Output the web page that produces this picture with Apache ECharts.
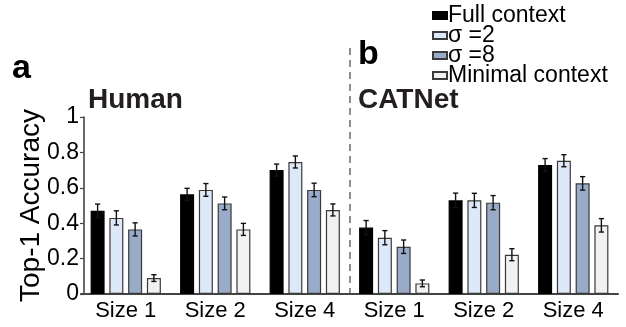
<!DOCTYPE html>
<html>
<head>
<meta charset="utf-8">
<script src="https://cdn.jsdelivr.net/npm/echarts@6/dist/echarts.min.js"></script>
<style>
html,body{margin:0;padding:0;background:#fff;}
#main{width:626px;height:327px;}
</style>
</head>
<body>
<div id="main"></div>
<script>
var categories = ['Size 1', 'Size 2', 'Size 4', 'Size 1', 'Size 2', 'Size 4'];
var seriesNames = ['Full context', 'σ =2', 'σ =8', 'Minimal context'];
var fullContext = [0.47, 0.563, 0.70, 0.375, 0.529, 0.729];
var sigma2 = [0.43, 0.588, 0.746, 0.318, 0.529, 0.753];
var sigma8 = [0.365, 0.512, 0.588, 0.267, 0.516, 0.625];
var minimalContext = [0.09, 0.365, 0.475, 0.06, 0.222, 0.388];
var fullErr = [0.038, 0.034, 0.034, 0.04, 0.041, 0.036];
var sigma2Err = [0.04, 0.036, 0.034, 0.04, 0.04, 0.034];
var sigma8Err = [0.037, 0.036, 0.038, 0.038, 0.04, 0.038];
var minimalErr = [0.019, 0.034, 0.034, 0.019, 0.034, 0.038];
var yTicks = [0, 0.2, 0.4, 0.6, 0.8, 1];

var values = [fullContext, sigma2, sigma8, minimalContext];
var errors = [fullErr, sigma2Err, sigma8Err, minimalErr];
var colors = ['#000000', '#dde9f9', '#9aabc9', '#f1f1f1'];
var FONT = "'Liberation Sans', Arial, Helvetica, sans-serif";
var BAR_W = 14, BAR_GAP = 4.76;

var chart = echarts.init(document.getElementById('main'), null, {renderer: 'canvas'});

var series = [];
values.forEach(function (vals, i) {
  series.push({
    name: seriesNames[i],
    type: 'bar',
    data: vals,
    barWidth: BAR_W,
    barGap: (BAR_GAP / BAR_W * 100) + '%',
    itemStyle: {color: colors[i], borderColor: i === 0 ? '#000' : '#3a3a3a', borderWidth: 1.2},
    emphasis: {disabled: true},
    z: 2
  });
});
errors.forEach(function (errs, i) {
  series.push({
    type: 'custom',
    data: errs.map(function (e, k) { return [k, values[i][k], e]; }),
    z: 5,
    silent: true,
    renderItem: function (params, api) {
      var c = api.value(0), v = api.value(1), e = api.value(2);
      var top = api.coord([c, v + e]);
      var bot = api.coord([c, v - e]);
      var x = top[0] + (i - 1.5) * (BAR_W + BAR_GAP);
      var cap = 2.6;
      var st = {stroke: '#111', lineWidth: 1.4};
      return {
        type: 'group',
        children: [
          {type: 'line', shape: {x1: x, y1: top[1], x2: x, y2: bot[1]}, style: st},
          {type: 'line', shape: {x1: x - cap, y1: top[1], x2: x + cap, y2: top[1]}, style: st},
          {type: 'line', shape: {x1: x - cap, y1: bot[1], x2: x + cap, y2: bot[1]}, style: st}
        ]
      };
    }
  });
});

var option = {
  animation: false,
  textStyle: {fontFamily: FONT},
  grid: {left: 81, right: 8, top: 117, bottom: 33, containLabel: false},
  legend: {
    data: seriesNames.map(function (n) { return {name: n, icon: 'rect'}; }),
    orient: 'vertical',
    left: 432,
    top: 4,
    itemWidth: 14,
    itemHeight: 7,
    itemGap: -3,
    padding: 0,
    selectedMode: false,
    textStyle: {fontFamily: FONT, fontSize: 23, lineHeight: 20, color: '#000', padding: [0, 0, 0, -4]}
  },
  xAxis: {
    type: 'category',
    data: categories,
    axisLine: {lineStyle: {color: '#444', width: 2}},
    axisTick: {show: false},
    axisLabel: {fontFamily: FONT, fontSize: 22, color: '#000', margin: 6}
  },
  yAxis: {
    type: 'value',
    min: 0, max: 1, interval: 0.2,
    offset: -3,
    name: 'Top-1 Accuracy',
    nameLocation: 'middle',
    nameRotate: 90,
    nameGap: 39,
    nameMoveOverlap: false,
    nameTextStyle: {fontFamily: FONT, fontSize: 28, color: '#000'},
    splitLine: {show: false},
    axisLine: {show: true, lineStyle: {color: '#444', width: 1.6}},
    axisTick: {show: true, length: 4, lineStyle: {color: '#444', width: 1.2}},
    axisLabel: {
      fontFamily: FONT, fontSize: 23, color: '#000', margin: 5,
      formatter: function (v) { return yTicks.indexOf(+v.toFixed(2)) >= 0 ? String(+v.toFixed(2)) : ''; }
    }
  },
  series: series
};
chart.setOption(option);

// decorative panel texts and divider
var p2 = chart.convertToPixel({xAxisIndex: 0}, 2);
var p3 = chart.convertToPixel({xAxisIndex: 0}, 3);
var y0 = chart.convertToPixel({yAxisIndex: 0}, 0);
var divX = Math.round((p2 + p3) / 2);
chart.setOption({
  graphic: [
    {type: 'text', left: 12, top: 52, style: {text: 'a', font: 'bold 34px ' + FONT, fill: '#000'}},
    {type: 'text', left: 88, top: 86, style: {text: 'Human', font: 'bold 28px ' + FONT, fill: '#231f20'}},
    {type: 'text', left: 358, top: 38, style: {text: 'b', font: 'bold 34px ' + FONT, fill: '#000'}},
    {type: 'text', left: 358, top: 86, style: {text: 'CATNet', font: 'bold 28px ' + FONT, fill: '#231f20'}},
    {type: 'line', shape: {x1: divX, y1: 48, x2: divX, y2: y0}, style: {stroke: '#444', lineWidth: 1.2, lineDash: [7, 5]}, z: 1}
  ]
});
</script>
</body>
</html>
